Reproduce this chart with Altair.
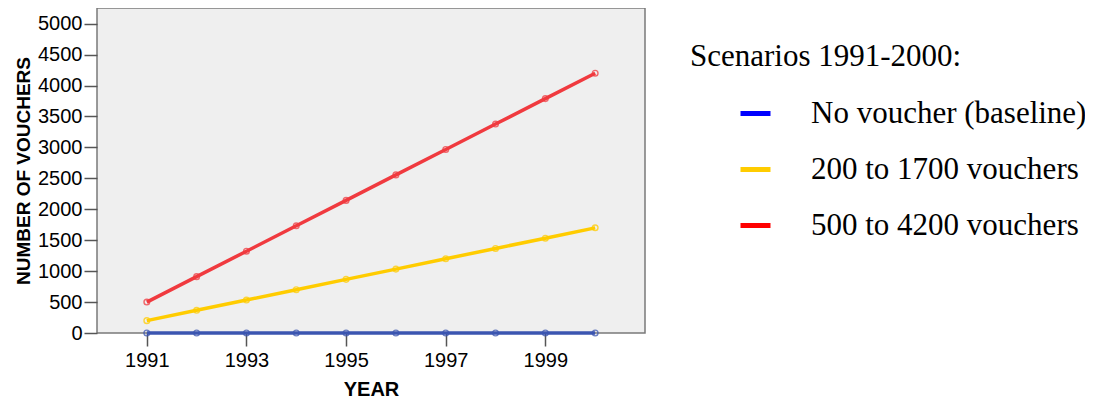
import altair as alt
import pandas as pd

years = [1991, 1992, 1993, 1994, 1995, 1996, 1997, 1998, 1999, 2000]
scenarios = ["No voucher (baseline)", "200 to 1700 vouchers", "500 to 4200 vouchers"]
baseline = [0, 0, 0, 0, 0, 0, 0, 0, 0, 0]
low = [200, 367, 533, 700, 867, 1033, 1200, 1367, 1533, 1700]
high = [500, 911, 1322, 1733, 2144, 2556, 2967, 3378, 3789, 4200]
x_ticks = [1991, 1993, 1995, 1997, 1999]
y_ticks = [0, 500, 1000, 1500, 2000, 2500, 3000, 3500, 4000, 4500, 5000]
line_colors = ["#3b55b0", "#ffcc00", "#f03a3f"]
legend_colors = ["#0000ff", "#ffcc00", "#ff0000"]

rows = []
for name, vals in zip(scenarios, [baseline, low, high]):
    for yr, v in zip(years, vals):
        rows.append({"year": yr, "vouchers": v, "scenario": name})
df = pd.DataFrame(rows)

FONT = "Liberation Sans"
SERIF = "Liberation Serif"

x = alt.X(
    "year:Q",
    scale=alt.Scale(domain=[1990, 2001], nice=False, zero=False),
    axis=alt.Axis(
        values=x_ticks, format="d", title="YEAR", grid=False, domain=False,
        tickSize=13, tickColor="#555", tickWidth=1.5, labelPadding=4,
        labelFont=FONT, labelFontSize=20, labelColor="#000",
        titleFont=FONT, titleFontSize=20, titleFontWeight="bold", titleColor="#000",
        titlePadding=9,
    ),
)
y = alt.Y(
    "vouchers:Q",
    scale=alt.Scale(domain=[0, 5254], nice=False),
    axis=alt.Axis(
        values=y_ticks, format="d", title="NUMBER OF VOUCHERS", grid=False, domain=False,
        tickSize=13, tickColor="#555", tickWidth=1.5, labelPadding=2,
        labelFont=FONT, labelFontSize=20, labelColor="#000",
        titleFont=FONT, titleFontSize=19, titleFontWeight="bold", titleColor="#000",
        titlePadding=4,
    ),
)
color_lines = alt.Color(
    "scenario:N",
    scale=alt.Scale(domain=scenarios, range=line_colors),
    legend=None,
)

lines = alt.Chart(df).mark_line(strokeWidth=3.5).encode(x=x, y=y, color=color_lines)
points = alt.Chart(df).mark_point(filled=False, size=32, strokeWidth=1.4, opacity=0.75).encode(
    x=x, y=y, color=color_lines
)

legend_layer = alt.Chart(df).transform_filter("false").mark_line().encode(
    x=x,
    y=y,
    color=alt.Color(
        "scenario:N",
        scale=alt.Scale(domain=scenarios, range=legend_colors),
        legend=alt.Legend(
            title="Scenarios 1991-2000:",
            orient="none",
            legendX=593,
            legendY=34,
            padding=0,
            titleFont=SERIF, titleFontSize=31, titleFontWeight="normal", titleColor="#000",
            titlePadding=23, titleAnchor="start", titleLimit=500,
            labelFont=SERIF, labelFontSize=31, labelColor="#000", labelOffset=38,
            labelLimit=500,
            symbolType="stroke", symbolSize=900, symbolStrokeWidth=5,
            symbolOffset=48, rowPadding=23,
        ),
    ),
)

chart = (
    alt.layer(lines, points, legend_layer)
    .resolve_scale(color="independent")
    .properties(
        width=548,
        height=325,
        autosize=alt.AutoSizeParams(type="none"),
        padding={"left": 89, "top": 0, "right": 440, "bottom": 66},
    )
    .configure_view(fill="#efefef", stroke="#7a7a7a", strokeWidth=1.5)
)

chart.save("out.html", embed_options={"renderer": "svg", "actions": False})
